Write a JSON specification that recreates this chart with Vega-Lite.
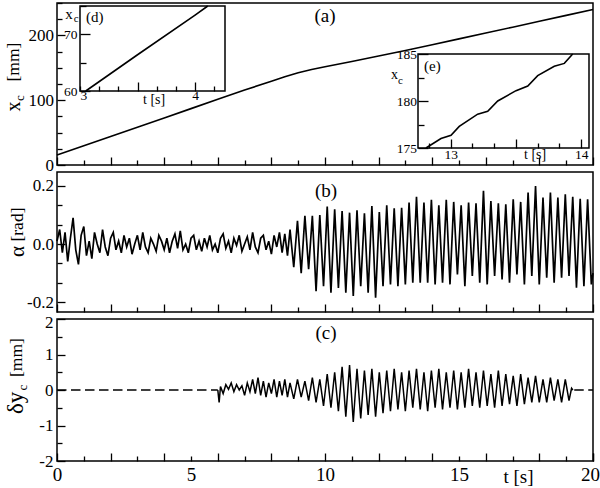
{
  "$schema": "https://vega.github.io/schema/vega-lite/v6.json",
  "padding": {"left": -6, "top": 1, "right": 0, "bottom": 0},
  "bounds": "flush",
  "spacing": 7,
  "config": {
    "font": "Liberation Serif",
    "view": {"stroke": "black", "strokeWidth": 1.5},
    "axis": {"grid": false, "domain": false, "tickColor": "black", "tickWidth": 1.3, "labelColor": "black", "labelFont": "Liberation Serif", "labelOverlap": false, "labelFlush": false, "titleColor": "black", "titleFont": "Liberation Serif", "titleFontWeight": "normal"},
    "text": {"color": "black", "font": "Liberation Serif"}
  },
  "datasets": {
    "xc": [{"t":0,"xc":15.5},{"t":1,"xc":29.8},{"t":2,"xc":44.1},{"t":3,"xc":58.4},{"t":4,"xc":72.7},{"t":5,"xc":87.0},{"t":6,"xc":101.3},{"t":7,"xc":115.6},{"t":8,"xc":129.4},{"t":8.5,"xc":136.2},{"t":9,"xc":142.3},{"t":9.5,"xc":147.3},{"t":10,"xc":151.6},{"t":11,"xc":159.8},{"t":12,"xc":168.1},{"t":13,"xc":176.6},{"t":14,"xc":185.6},{"t":15,"xc":194.6},{"t":16,"xc":203.6},{"t":17,"xc":212.7},{"t":18,"xc":221.8},{"t":19,"xc":230.9},{"t":20,"xc":240.0}],
    "insetD": [{"t":3.05,"xc":60},{"t":3.5,"xc":66.4},{"t":4.0,"xc":73.4},{"t":4.11,"xc":75}],
    "insetE": [{"t":12.811,"xc":175.0},{"t":12.926,"xc":176.0},{"t":13.003,"xc":176.35},{"t":13.066,"xc":177.3},{"t":13.207,"xc":178.6},{"t":13.284,"xc":178.9},{"t":13.361,"xc":180.0},{"t":13.501,"xc":181.1},{"t":13.591,"xc":181.6},{"t":13.667,"xc":182.7},{"t":13.794,"xc":183.7},{"t":13.871,"xc":184.0},{"t":13.935,"xc":185.0}],
    "alpha": [
      {"t":0.0,"a":0.01},{"t":0.1,"a":0.05},{"t":0.2,"a":-0.03},{"t":0.3,"a":0.04},{"t":0.4,"a":-0.06},{"t":0.5,"a":0.02},{"t":0.6,"a":0.09},{"t":0.7,"a":-0.02},{"t":0.8,"a":-0.07},{"t":0.9,"a":0.03},
      {"t":1.0,"a":0.06},{"t":1.1,"a":-0.04},{"t":1.2,"a":0.01},{"t":1.3,"a":-0.05},{"t":1.4,"a":0.04},{"t":1.5,"a":0.0},{"t":1.6,"a":-0.03},{"t":1.7,"a":0.05},{"t":1.8,"a":-0.01},{"t":1.9,"a":-0.04},
      {"t":2.0,"a":0.02},{"t":2.1,"a":0.04},{"t":2.2,"a":-0.02},{"t":2.3,"a":0.01},{"t":2.4,"a":-0.03},{"t":2.5,"a":0.03},{"t":2.6,"a":-0.01},{"t":2.7,"a":0.02},{"t":2.8,"a":-0.035},{"t":2.9,"a":0.0},
      {"t":3.0,"a":0.03},{"t":3.1,"a":-0.02},{"t":3.2,"a":0.04},{"t":3.3,"a":-0.01},{"t":3.4,"a":-0.03},{"t":3.5,"a":0.02},{"t":3.6,"a":0.0},{"t":3.7,"a":-0.025},{"t":3.8,"a":0.03},{"t":3.9,"a":0.01},
      {"t":4.0,"a":-0.02},{"t":4.1,"a":0.02},{"t":4.2,"a":-0.03},{"t":4.3,"a":0.01},{"t":4.4,"a":0.035},{"t":4.5,"a":-0.015},{"t":4.6,"a":0.045},{"t":4.7,"a":-0.02},{"t":4.8,"a":0.0},{"t":4.9,"a":-0.03},
      {"t":5.0,"a":0.02},{"t":5.1,"a":0.03},{"t":5.2,"a":-0.02},{"t":5.3,"a":0.01},{"t":5.4,"a":-0.025},{"t":5.5,"a":0.02},{"t":5.6,"a":-0.01},{"t":5.7,"a":0.03},{"t":5.8,"a":-0.02},{"t":5.9,"a":0.0},
      {"t":6.0,"a":-0.03},{"t":6.1,"a":0.02},{"t":6.2,"a":0.035},{"t":6.3,"a":-0.015},{"t":6.4,"a":0.01},{"t":6.5,"a":-0.03},{"t":6.6,"a":0.02},{"t":6.7,"a":-0.005},{"t":6.8,"a":0.03},{"t":6.9,"a":-0.025},
      {"t":7.0,"a":0.0},{"t":7.1,"a":0.025},{"t":7.2,"a":-0.02},{"t":7.3,"a":0.04},{"t":7.4,"a":-0.01},{"t":7.5,"a":-0.03},{"t":7.6,"a":0.02},{"t":7.7,"a":0.03},{"t":7.8,"a":-0.02},{"t":7.9,"a":0.01},
      {"t":8.0,"a":-0.035},{"t":8.1,"a":0.03},{"t":8.2,"a":-0.01},{"t":8.3,"a":0.04},{"t":8.4,"a":-0.03},{"t":8.5,"a":0.035},{"t":8.6,"a":-0.04},
      {"t":8.695,"a":0.05},{"t":8.834,"a":-0.08},{"t":8.973,"a":0.08},{"t":9.112,"a":-0.1},{"t":9.25,"a":0.097},{"t":9.389,"a":-0.087},{"t":9.528,"a":0.097},{"t":9.667,"a":-0.162},
      {"t":9.806,"a":0.1},{"t":9.945,"a":-0.145},{"t":10.083,"a":0.129},{"t":10.222,"a":-0.168},{"t":10.361,"a":0.12},{"t":10.5,"a":-0.151},{"t":10.638,"a":0.114},{"t":10.777,"a":-0.168},
      {"t":10.916,"a":0.108},{"t":11.055,"a":-0.179},{"t":11.194,"a":0.116},{"t":11.333,"a":-0.145},{"t":11.471,"a":0.106},{"t":11.61,"a":-0.168},{"t":11.749,"a":0.131},{"t":11.888,"a":-0.185},
      {"t":12.026,"a":0.11},{"t":12.165,"a":-0.145},{"t":12.304,"a":0.133},{"t":12.443,"a":-0.139},{"t":12.582,"a":0.123},{"t":12.721,"a":-0.145},{"t":12.859,"a":0.125},{"t":12.998,"a":-0.139},
      {"t":13.137,"a":0.143},{"t":13.276,"a":-0.133},{"t":13.414,"a":0.163},{"t":13.553,"a":-0.133},{"t":13.692,"a":0.143},{"t":13.831,"a":-0.133},{"t":13.97,"a":0.152},{"t":14.109,"a":-0.139},
      {"t":14.247,"a":0.133},{"t":14.386,"a":-0.133},{"t":14.525,"a":0.152},{"t":14.664,"a":-0.139},{"t":14.802,"a":0.145},{"t":14.941,"a":-0.105},{"t":15.08,"a":0.133},{"t":15.219,"a":-0.145},
      {"t":15.358,"a":0.143},{"t":15.497,"a":-0.11},{"t":15.635,"a":0.14},{"t":15.774,"a":-0.133},{"t":15.913,"a":0.183},{"t":16.052,"a":-0.139},{"t":16.19,"a":0.148},{"t":16.329,"a":-0.11},
      {"t":16.468,"a":0.14},{"t":16.607,"a":-0.122},{"t":16.746,"a":0.137},{"t":16.885,"a":-0.133},{"t":17.023,"a":0.154},{"t":17.162,"a":-0.105},{"t":17.301,"a":0.145},{"t":17.44,"a":-0.139},
      {"t":17.578,"a":0.177},{"t":17.717,"a":-0.11},{"t":17.856,"a":0.2},{"t":17.995,"a":-0.139},{"t":18.134,"a":0.16},{"t":18.273,"a":-0.116},{"t":18.411,"a":0.177},{"t":18.55,"a":-0.133},
      {"t":18.689,"a":0.16},{"t":18.828,"a":-0.116},{"t":18.966,"a":0.171},{"t":19.105,"a":-0.11},{"t":19.244,"a":0.163},{"t":19.383,"a":-0.15},{"t":19.522,"a":0.156},{"t":19.661,"a":-0.145},
      {"t":19.799,"a":0.154},{"t":19.938,"a":-0.139},{"t":20.0,"a":-0.1}
    ],
    "dy": [
      {"t":6.0,"v":0.0},{"t":6.05,"v":-0.35},{"t":6.1,"v":0.1},{"t":6.2,"v":-0.1},{"t":6.3,"v":0.15},{"t":6.4,"v":0.02},{"t":6.5,"v":0.2},{"t":6.6,"v":-0.05},{"t":6.7,"v":0.15},{"t":6.8,"v":0.0},
      {"t":6.9,"v":0.12},{"t":7.0,"v":-0.15},{"t":7.1,"v":0.2},{"t":7.2,"v":-0.05},{"t":7.3,"v":0.3},{"t":7.4,"v":-0.1},{"t":7.5,"v":0.35},{"t":7.6,"v":-0.15},{"t":7.7,"v":0.25},{"t":7.8,"v":-0.2},
      {"t":7.9,"v":0.2},{"t":8.0,"v":-0.1},{"t":8.1,"v":0.3},{"t":8.2,"v":-0.2},{"t":8.3,"v":0.25},{"t":8.4,"v":-0.15},{"t":8.5,"v":0.3},{"t":8.6,"v":-0.2},
      {"t":8.695,"v":0.2},{"t":8.834,"v":-0.25},{"t":8.973,"v":0.3},{"t":9.112,"v":-0.2},{"t":9.25,"v":0.25},{"t":9.389,"v":-0.3},{"t":9.528,"v":0.35},{"t":9.667,"v":-0.35},
      {"t":9.806,"v":0.3},{"t":9.945,"v":-0.45},{"t":10.083,"v":0.45},{"t":10.222,"v":-0.5},{"t":10.361,"v":0.5},{"t":10.5,"v":-0.6},{"t":10.638,"v":0.65},{"t":10.777,"v":-0.75},
      {"t":10.916,"v":0.7},{"t":11.055,"v":-0.9},{"t":11.194,"v":0.6},{"t":11.333,"v":-0.8},{"t":11.471,"v":0.55},{"t":11.61,"v":-0.7},{"t":11.749,"v":0.6},{"t":11.888,"v":-0.75},
      {"t":12.026,"v":0.5},{"t":12.165,"v":-0.65},{"t":12.304,"v":0.55},{"t":12.443,"v":-0.6},{"t":12.582,"v":0.6},{"t":12.721,"v":-0.55},{"t":12.859,"v":0.5},{"t":12.998,"v":-0.6},
      {"t":13.137,"v":0.55},{"t":13.276,"v":-0.5},{"t":13.414,"v":0.6},{"t":13.553,"v":-0.55},{"t":13.692,"v":0.5},{"t":13.831,"v":-0.6},{"t":13.97,"v":0.55},{"t":14.109,"v":-0.5},
      {"t":14.247,"v":0.6},{"t":14.386,"v":-0.55},{"t":14.525,"v":0.5},{"t":14.664,"v":-0.5},{"t":14.802,"v":0.55},{"t":14.941,"v":-0.55},{"t":15.08,"v":0.5},{"t":15.219,"v":-0.5},
      {"t":15.358,"v":0.6},{"t":15.497,"v":-0.45},{"t":15.635,"v":0.5},{"t":15.774,"v":-0.5},{"t":15.913,"v":0.55},{"t":16.052,"v":-0.45},{"t":16.19,"v":0.45},{"t":16.329,"v":-0.5},
      {"t":16.468,"v":0.55},{"t":16.607,"v":-0.45},{"t":16.746,"v":0.45},{"t":16.885,"v":-0.4},{"t":17.023,"v":0.4},{"t":17.162,"v":-0.45},{"t":17.301,"v":0.45},{"t":17.44,"v":-0.4},
      {"t":17.578,"v":0.35},{"t":17.717,"v":-0.35},{"t":17.856,"v":0.4},{"t":17.995,"v":-0.35},{"t":18.134,"v":0.3},{"t":18.273,"v":-0.35},{"t":18.411,"v":0.35},{"t":18.55,"v":-0.3},
      {"t":18.689,"v":0.3},{"t":18.828,"v":-0.35},{"t":18.966,"v":0.3},{"t":19.105,"v":-0.3},{"t":19.2,"v":0.05},{"t":19.25,"v":0.0}
    ],
    "dash": [{"t":0,"v":0,"s":1},{"t":6.0,"v":0,"s":1},{"t":19.3,"v":0,"s":2},{"t":20,"v":0,"s":2}]
  },
  "vconcat": [
    {
      "width": 536,
      "height": 162,
      "resolve": {"scale": {"x": "independent", "y": "independent"}, "axis": {"x": "independent", "y": "independent"}},
      "layer": [
        {
          "resolve": {"axis": {"x": "independent", "y": "independent"}},
          "layer": [
            {
              "data": {"name": "xc"},
              "mark": {"type": "line", "color": "black", "strokeWidth": 1.6},
              "encoding": {
                "x": {"field": "t", "type": "quantitative", "scale": {"domain": [0, 20], "nice": false, "zero": false},
                  "axis": {"orient": "bottom", "title": null, "labels": false, "values": [0,2,4,6,8,10,12,14,16,18,20], "tickSize": -8}},
                "y": {"field": "xc", "type": "quantitative", "scale": {"domain": [0, 250], "nice": false, "zero": false},
                  "axis": {"orient": "left", "title": null, "values": [0,100,200], "labelFont": "Liberation Serif", "labelFontSize": 17, "tickSize": -8, "labelPadding": 11.5}}
              }
            },
            {"data": {"values": [{}]}, "mark": {"type": "text", "text": "(a)", "fontSize": 19, "align": "center", "baseline": "middle", "fill": "black"},
             "encoding": {
               "x": {"datum": 10.0, "type": "quantitative", "axis": {"orient": "bottom", "title": null, "labels": false, "values": [1,3,5,7,9,11,13,15,17,19], "tickSize": -5}},
               "y": {"datum": 229.9, "type": "quantitative", "axis": {"orient": "left", "title": null, "labels": false, "values": [25,50,75,125,150,175,225,250], "tickSize": -5}}}},
            {"data": {"values": [{}]}, "mark": {"type": "text", "text": "x", "fontSize": 20, "angle": 270, "align": "left", "baseline": "alphabetic", "fill": "black"},
             "encoding": {"x": {"datum": -1.399, "type": "quantitative", "axis": null}, "y": {"datum": 82.6, "type": "quantitative", "axis": null}}},
            {"data": {"values": [{}]}, "mark": {"type": "text", "text": "c", "fontSize": 13, "angle": 270, "align": "left", "baseline": "alphabetic", "fill": "black"},
             "encoding": {"x": {"datum": -1.22, "type": "quantitative", "axis": null}, "y": {"datum": 98.8, "type": "quantitative", "axis": null}}},
            {"data": {"values": [{}]}, "mark": {"type": "text", "text": "[mm]", "fontSize": 17.5, "angle": 270, "align": "left", "baseline": "alphabetic", "fill": "black"},
             "encoding": {"x": {"datum": -1.407, "type": "quantitative", "axis": null}, "y": {"datum": 128.9, "type": "quantitative", "axis": null}}}
          ]
        },
        {
          "resolve": {"axis": {"x": "independent", "y": "independent"}},
          "layer": [
            {"data": {"values": [{}]}, "mark": {"type": "rect", "fill": "white", "stroke": "black", "strokeWidth": 1.5},
             "encoding": {"x": {"datum": 3, "type": "quantitative", "axis": null}, "x2": {"datum": 4.26}, "y": {"datum": 60, "type": "quantitative", "axis": null}, "y2": {"datum": 75}}},
            {
              "data": {"name": "insetD"},
              "mark": {"type": "line", "color": "black", "strokeWidth": 1.6},
              "encoding": {
                "x": {"field": "t", "type": "quantitative", "scale": {"domain": [3, 4.26], "range": [23, 168], "nice": false, "zero": false},
                  "axis": {"orient": "bottom", "offset": -74, "zindex": 1, "title": null, "values": [3.5, 4],
                    "labelExpr": "datum.value === 4 ? '4' : ''", "labelFont": "Liberation Serif", "labelFontSize": 13.5, "tickSize": -9, "labelPadding": 6}},
                "y": {"field": "xc", "type": "quantitative", "scale": {"domain": [60, 75], "range": [88, 3], "nice": false, "zero": false},
                  "axis": {"orient": "left", "offset": -23, "zindex": 1, "title": null, "values": [60, 70], "labelFont": "Liberation Serif", "labelFontSize": 13.5, "tickSize": -10, "labelPadding": 13}}
              }
            },
            {"data": {"values": [{}]}, "mark": {"type": "text", "text": "(d)", "fontSize": 15, "align": "left", "baseline": "alphabetic", "fill": "black"},
             "encoding": {
               "x": {"datum": 3.052, "type": "quantitative",
                 "axis": {"orient": "bottom", "offset": -74, "zindex": 1, "title": null, "values": [3, 3.16667, 3.33333, 3.66667, 3.83333, 4.16667],
                   "labelExpr": "datum.value === 3 ? '3' : ''", "labelAlign": "left", "labelFont": "Liberation Serif", "labelFontSize": 13.5, "tickSize": -5, "labelPadding": 2}},
               "y": {"datum": 72.18, "type": "quantitative",
                 "axis": {"orient": "left", "offset": -23, "zindex": 1, "title": null, "labels": false, "values": [65, 75], "tickSize": -6}}}},
            {"data": {"values": [{}]}, "mark": {"type": "text", "text": "x", "fontSize": 15, "align": "left", "baseline": "alphabetic", "fill": "black"},
             "encoding": {"x": {"datum": 2.872, "type": "quantitative", "axis": null}, "y": {"datum": 72.65, "type": "quantitative", "axis": null}}},
            {"data": {"values": [{}]}, "mark": {"type": "text", "text": "c", "fontSize": 11, "align": "left", "baseline": "alphabetic", "fill": "black"},
             "encoding": {"x": {"datum": 2.945, "type": "quantitative", "axis": null}, "y": {"datum": 72.18, "type": "quantitative", "axis": null}}},
            {"data": {"values": [{}]}, "mark": {"type": "text", "text": "t  [s]", "fontSize": 14, "align": "left", "baseline": "alphabetic", "fill": "black"},
             "encoding": {"x": {"datum": 3.548, "type": "quantitative", "axis": null}, "y": {"datum": 57.79, "type": "quantitative", "axis": null}}}
          ]
        },
        {
          "resolve": {"axis": {"x": "independent", "y": "independent"}},
          "layer": [
            {"data": {"values": [{}]}, "mark": {"type": "rect", "fill": "white", "stroke": "black", "strokeWidth": 1.5},
             "encoding": {"x": {"datum": 12.75, "type": "quantitative", "axis": null}, "x2": {"datum": 14.06}, "y": {"datum": 175, "type": "quantitative", "axis": null}, "y2": {"datum": 185}}},
            {
              "data": {"name": "insetE"},
              "mark": {"type": "line", "color": "black", "strokeWidth": 1.6},
              "encoding": {
                "x": {"field": "t", "type": "quantitative", "scale": {"domain": [12.75, 14.06], "range": [361, 532], "nice": false, "zero": false},
                  "axis": {"orient": "bottom", "offset": -17, "zindex": 1, "title": null, "values": [13, 13.5, 14],
                    "labelExpr": "datum.value === 13 ? '13' : datum.value === 14 ? '14' : ''", "labelFont": "Liberation Serif", "labelFontSize": 13.5, "tickSize": -9, "labelPadding": 8.5}},
                "y": {"field": "xc", "type": "quantitative", "scale": {"domain": [175, 185], "range": [145, 51], "nice": false, "zero": false},
                  "axis": {"orient": "left", "offset": -361, "zindex": 1, "title": null, "values": [175, 180, 185], "labelFont": "Liberation Serif", "labelFontSize": 13.5, "tickSize": -10, "labelPadding": 11.5}}
              }
            },
            {"data": {"values": [{}]}, "mark": {"type": "text", "text": "(e)", "fontSize": 15, "align": "left", "baseline": "alphabetic", "fill": "black"},
             "encoding": {
               "x": {"datum": 12.796, "type": "quantitative",
                 "axis": {"orient": "bottom", "offset": -17, "zindex": 1, "title": null, "labels": false, "values": [12.83333, 13.16667, 13.33333, 13.66667, 13.83333], "tickSize": -5}},
               "y": {"datum": 183.19, "type": "quantitative",
                 "axis": {"orient": "left", "offset": -361, "zindex": 1, "title": null, "labels": false, "values": [177.5, 182.5], "tickSize": -6}}}},
            {"data": {"values": [{}]}, "mark": {"type": "text", "text": "x", "fontSize": 14, "align": "left", "baseline": "alphabetic", "fill": "black"},
             "encoding": {"x": {"datum": 12.543, "type": "quantitative", "axis": null}, "y": {"datum": 182.31, "type": "quantitative", "axis": null}}},
            {"data": {"values": [{}]}, "mark": {"type": "text", "text": "c", "fontSize": 11, "align": "left", "baseline": "alphabetic", "fill": "black"},
             "encoding": {"x": {"datum": 12.596, "type": "quantitative", "axis": null}, "y": {"datum": 181.78, "type": "quantitative", "axis": null}}},
            {"data": {"values": [{}]}, "mark": {"type": "text", "text": "t    [s]", "fontSize": 14, "align": "left", "baseline": "alphabetic", "fill": "black"},
             "encoding": {"x": {"datum": 13.562, "type": "quantitative", "axis": null}, "y": {"datum": 173.88, "type": "quantitative", "axis": null}}}
          ]
        }
      ]
    },
    {
      "width": 536,
      "height": 140,
      "resolve": {"axis": {"x": "independent", "y": "independent"}},
      "layer": [
        {
          "data": {"name": "alpha"},
          "mark": {"type": "line", "color": "black", "strokeWidth": 1.7},
          "encoding": {
            "x": {"field": "t", "type": "quantitative", "scale": {"domain": [0, 20], "nice": false, "zero": false},
              "axis": {"orient": "bottom", "title": null, "labels": false, "values": [0,2,4,6,8,10,12,14,16,18,20], "tickSize": -8}},
            "y": {"field": "a", "type": "quantitative", "scale": {"domain": [-0.234, 0.248], "nice": false, "zero": false},
              "axis": {"orient": "left", "title": null, "values": [-0.2, 0, 0.2], "minExtent": 62,
                "labelExpr": "replace(format(datum.value, '.1f'), '−', '-')", "labelFont": "Liberation Serif", "labelFontSize": 17, "tickSize": -8, "labelPadding": 11.5}}
          }
        },
        {"data": {"values": [{}]}, "mark": {"type": "text", "text": "(b)", "fontSize": 19, "align": "center", "baseline": "middle", "fill": "black"},
         "encoding": {
           "x": {"datum": 10.04, "type": "quantitative", "axis": {"orient": "bottom", "title": null, "labels": false, "values": [1,3,5,7,9,11,13,15,17,19], "tickSize": -5}},
           "y": {"datum": 0.184, "type": "quantitative", "axis": {"orient": "left", "title": null, "labels": false, "values": [-0.133333, -0.066667, 0.066667, 0.133333], "tickSize": -5}}}},
        {"data": {"values": [{}]}, "mark": {"type": "text", "text": "α", "fontSize": 21, "angle": 270, "align": "left", "baseline": "alphabetic", "fill": "black"},
         "encoding": {"x": {"datum": -1.231, "type": "quantitative", "axis": null}, "y": {"datum": -0.045, "type": "quantitative", "axis": null}}},
        {"data": {"values": [{}]}, "mark": {"type": "text", "text": "[rad]", "fontSize": 17.5, "angle": 270, "align": "left", "baseline": "alphabetic", "fill": "black"},
         "encoding": {"x": {"datum": -1.287, "type": "quantitative", "axis": null}, "y": {"datum": 0.0086, "type": "quantitative", "axis": null}}}
      ]
    },
    {
      "width": 536,
      "height": 142,
      "resolve": {"axis": {"x": "independent", "y": "independent"}},
      "layer": [
        {
          "data": {"name": "dash"},
          "mark": {"type": "line", "color": "black", "strokeWidth": 1.5, "strokeDash": [9.5, 4.5]},
          "encoding": {
            "x": {"field": "t", "type": "quantitative", "scale": {"domain": [0, 20], "nice": false, "zero": false},
              "axis": {"orient": "bottom", "title": "t   [s]", "titleX": 446, "titleY": 21.5, "titleAlign": "left", "titleBaseline": "alphabetic", "titleFontSize": 19,
                "values": [0,2,4,6,8,10,12,14,16,18,20],
                "labelExpr": "datum.value === 0 || datum.value === 10 ? datum.label : ''", "labelFont": "Liberation Serif", "labelFontSize": 19, "tickSize": -8, "labelPadding": 12}},
            "y": {"field": "v", "type": "quantitative", "scale": {"domain": [-2, 2], "nice": false, "zero": false},
              "axis": {"orient": "left", "title": null, "values": [-2, -1, 0, 1],
                "labelExpr": "replace(datum.label, '−', '-')", "labelFont": "Liberation Serif", "labelFontSize": 17, "tickSize": -8, "labelPadding": 12}},
            "detail": {"field": "s", "type": "nominal"}
          }
        },
        {
          "data": {"name": "dy"},
          "mark": {"type": "line", "color": "black", "strokeWidth": 1.5},
          "encoding": {
            "x": {"field": "t", "type": "quantitative", "axis": {"orient": "bottom", "title": null, "values": [20], "labelExpr": "'20'", "labelFont": "Liberation Serif", "labelFontSize": 19, "labelOffset": -3, "tickSize": -8, "labelPadding": 12}},
            "y": {"field": "v", "type": "quantitative", "axis": {"orient": "left", "title": null, "values": [2], "labelExpr": "'2'", "labelFont": "Liberation Serif", "labelFontSize": 17, "labelOffset": 3, "tickSize": -8, "labelPadding": 12}}
          }
        },
        {"data": {"values": [{}]}, "mark": {"type": "text", "text": "(c)", "fontSize": 19, "align": "center", "baseline": "middle", "fill": "black"},
         "encoding": {
           "x": {"datum": 10.04, "type": "quantitative", "axis": {"orient": "bottom", "title": null, "values": [1,3,5,7,9,11,13,15,17,19],
             "labelExpr": "datum.value % 5 === 0 ? datum.label : ''", "labelFont": "Liberation Serif", "labelFontSize": 19, "tickSize": -5, "labelPadding": 9}},
           "y": {"datum": 1.6, "type": "quantitative", "axis": {"orient": "left", "title": null, "labels": false, "values": [-1.5, -0.5, 0.5, 1.5], "tickSize": -5}}}},
        {"data": {"values": [{}]}, "mark": {"type": "text", "text": "δy", "fontSize": 23, "angle": 270, "align": "left", "baseline": "alphabetic", "fill": "black"},
         "encoding": {"x": {"datum": -1.269, "type": "quantitative", "axis": null}, "y": {"datum": -0.676, "type": "quantitative", "axis": null}}},
        {"data": {"values": [{}]}, "mark": {"type": "text", "text": "c", "fontSize": 13, "angle": 270, "align": "left", "baseline": "alphabetic", "fill": "black"},
         "encoding": {"x": {"datum": -1.119, "type": "quantitative", "axis": null}, "y": {"datum": -0.014, "type": "quantitative", "axis": null}}},
        {"data": {"values": [{}]}, "mark": {"type": "text", "text": "[mm]", "fontSize": 17.5, "angle": 270, "align": "left", "baseline": "alphabetic", "fill": "black"},
         "encoding": {"x": {"datum": -1.306, "type": "quantitative", "axis": null}, "y": {"datum": 0.366, "type": "quantitative", "axis": null}}}
      ]
    }
  ]
}
